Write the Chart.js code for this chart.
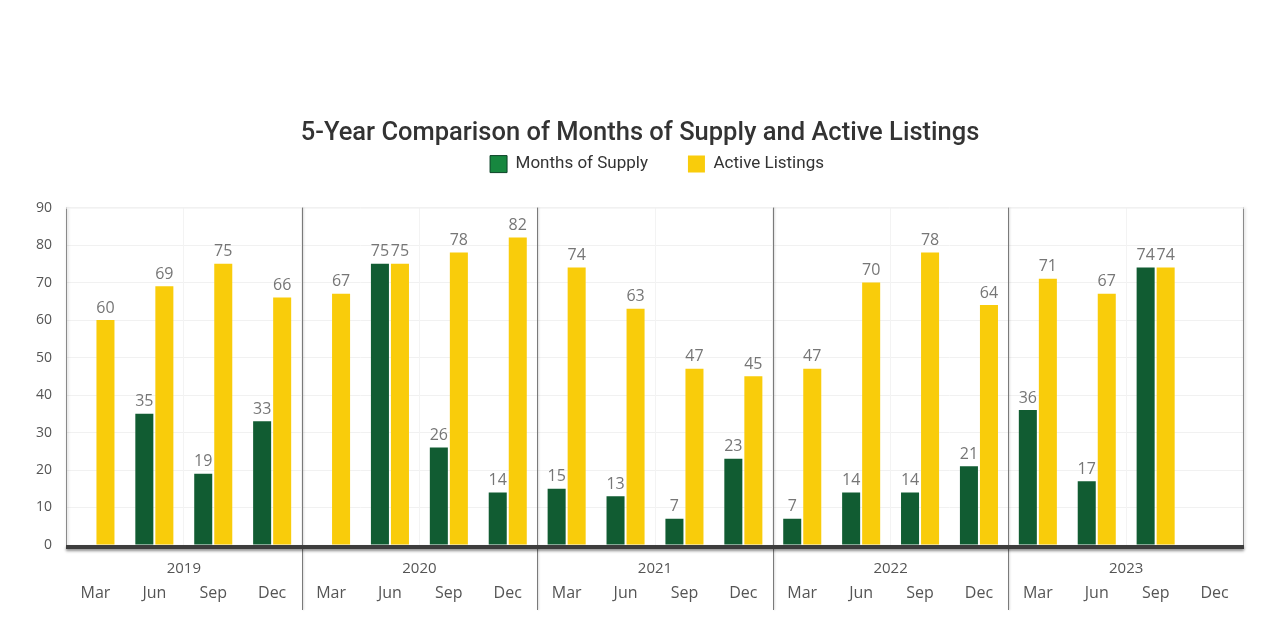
<!DOCTYPE html>
<html>
<head>
<meta charset="utf-8">
<script src="https://cdn.jsdelivr.net/npm/chart.js@4"></script>
<style>
  html, body { margin: 0; padding: 0; background: #fff; }
  #wrap { width: 1280px; height: 638px; }
</style>
</head>
<body>
<div id="wrap"><canvas id="myChart"></canvas></div>
<script>
const years = ['2019', '2020', '2021', '2022', '2023'];
const months = ['Mar', 'Jun', 'Sep', 'Dec',
                'Mar', 'Jun', 'Sep', 'Dec',
                'Mar', 'Jun', 'Sep', 'Dec',
                'Mar', 'Jun', 'Sep', 'Dec',
                'Mar', 'Jun', 'Sep', 'Dec'];
const monthsOfSupply = [null, 35, 19, 33,
                        null, 75, 26, 14,
                        15, 13, 7, 23,
                        7, 14, 14, 21,
                        36, 17, 74, null];
const activeListings = [60, 69, 75, 66,
                        67, 75, 78, 82,
                        74, 63, 47, 45,
                        47, 70, 78, 64,
                        71, 67, 74, null];
const yTicks = [0, 10, 20, 30, 40, 50, 60, 70, 80, 90];

const GREEN = '#115c32';
const YELLOW = '#f9cc0b';

// legend sits close under the title but keeps wide gaps between items
const legendSize = {
  id: 'legendSize',
  beforeInit(chart) {
    const lg = chart.legend;
    if (!lg) return;
    const fit = lg.fit;
    lg.fit = function () {
      fit.call(this);
      this.height = 92;
    };
  },
  afterLayout(chart) {
    // title centred on the page, legend centred on the plot
    if (chart.legend) { chart.legend.left += 35; chart.legend.right += 35; }
    if (chart.titleBlock) { chart.titleBlock.left += 18; chart.titleBlock.right += 18; }
  }
};

// value labels above bars + frame, baseline and year separators
const decorations = {
  id: 'decorations',
  afterDatasetsDraw(chart) {
    const ctx = chart.ctx;
    const area = chart.chartArea;
    const x = chart.scales.x;

    ctx.save();
    // frame left/right
    ctx.shadowColor = 'rgba(0,0,0,0.25)';
    ctx.shadowBlur = 3;
    ctx.shadowOffsetX = 1;
    ctx.strokeStyle = '#8a8a8a';
    ctx.lineWidth = 1;
    ctx.beginPath();
    ctx.moveTo(area.left + 0.5, area.top);
    ctx.lineTo(area.left + 0.5, area.bottom + 4);
    ctx.moveTo(area.right - 0.5, area.top);
    ctx.lineTo(area.right - 0.5, area.bottom + 4);
    ctx.stroke();
    ctx.strokeStyle = '#f0f0f0';
    ctx.shadowColor = 'transparent';
    ctx.beginPath();
    ctx.moveTo(area.left, area.top + 0.5);
    ctx.lineTo(area.right, area.top + 0.5);
    ctx.stroke();

    // year separators
    ctx.strokeStyle = '#7a7a7a';
    ctx.shadowColor = 'rgba(0,0,0,0.2)';
    ctx.shadowBlur = 2;
    ctx.beginPath();
    for (let i = 4; i < months.length; i += 4) {
      const px = Math.round((x.getPixelForValue(i - 1) + x.getPixelForValue(i)) / 2) + 0.5;
      ctx.moveTo(px, area.top);
      ctx.lineTo(px, 610);
    }
    ctx.stroke();

    // baseline
    ctx.shadowColor = 'rgba(0,0,0,0.45)';
    ctx.shadowBlur = 3;
    ctx.shadowOffsetY = 2;
    ctx.shadowOffsetX = 0;
    ctx.fillStyle = '#3d3d3d';
    ctx.fillRect(area.left, area.bottom, area.right - area.left, 4);
    ctx.restore();

    // value labels
    ctx.save();
    ctx.font = '16px "Open Sans"';
    ctx.fillStyle = '#767676';
    ctx.textAlign = 'center';
    ctx.textBaseline = 'bottom';
    chart.data.datasets.forEach((ds, di) => {
      const meta = chart.getDatasetMeta(di);
      meta.data.forEach((bar, i) => {
        const v = ds.data[i];
        if (v === null || v === undefined) return;
        ctx.fillText(String(v), bar.x, bar.y - 4);
      });
    });
    ctx.restore();
  }
};

new Chart(document.getElementById('myChart'), {
  type: 'bar',
  data: {
    labels: months,
    datasets: [{
      label: 'Months of Supply',
      data: monthsOfSupply,
      xAxisID: 'x',
      backgroundColor: GREEN,
      borderWidth: 0,
      barPercentage: 0.9,
      categoryPercentage: 0.68
    }, {
      label: 'Active Listings',
      data: activeListings,
      xAxisID: 'x',
      backgroundColor: YELLOW,
      borderWidth: 0,
      barPercentage: 0.9,
      categoryPercentage: 0.68
    }]
  },
  options: {
    responsive: true,
    maintainAspectRatio: false,
    animation: false,
    layout: { padding: { top: 115, right: 36, bottom: 33, left: 0 } },
    scales: {
      y: {
        min: 0,
        max: 90,
        afterBuildTicks(scale) { scale.ticks = yTicks.map(v => ({ value: v })); },
        afterFit(scale) { scale.width = 66; },
        border: { display: false },
        grid: { color: '#f1f1f1', drawTicks: false },
        ticks: { color: '#555', padding: 14, font: { family: 'Open Sans', size: 14 } }
      },
      year: {
        type: 'category',
        labels: years,
        position: 'bottom',
        offset: true,
        afterFit(scale) { scale.height = 34; },
        border: { display: false },
        grid: { display: false, drawTicks: false },
        ticks: { color: '#555', padding: 15, font: { family: 'Open Sans', size: 15 } }
      },
      x: {
        position: 'bottom',
        afterFit(scale) { scale.height = 26; },
        border: { display: false },
        grid: {
          drawTicks: false,
          offset: true,
          color: (c) => (c.index % 2 === 0 ? '#f3f3f3' : 'transparent')
        },
        ticks: { color: '#555', padding: 5, maxRotation: 0, autoSkip: false, font: { family: 'Open Sans', size: 16 } }
      }
    },
    plugins: {
      title: {
        display: true,
        text: '5-Year Comparison of Months of Supply and Active Listings',
        color: '#333',
        font: { family: 'Roboto', size: 25.5, weight: '500' },
        padding: { top: 3, bottom: -33 }
      },
      legend: {
        labels: {
          color: '#333',
          boxWidth: 17,
          boxHeight: 17,
          padding: 40,
          font: { family: 'Roboto', size: 17 },
          generateLabels(chart) {
            const items = Chart.defaults.plugins.legend.labels.generateLabels(chart);
            items[0].fillStyle = '#17873f';
            items[0].strokeStyle = '#0b4226';
            items[0].lineWidth = 1;
            return items;
          }
        }
      },
      tooltip: { enabled: false }
    }
  },
  plugins: [legendSize, decorations]
});
</script>
</body>
</html>
